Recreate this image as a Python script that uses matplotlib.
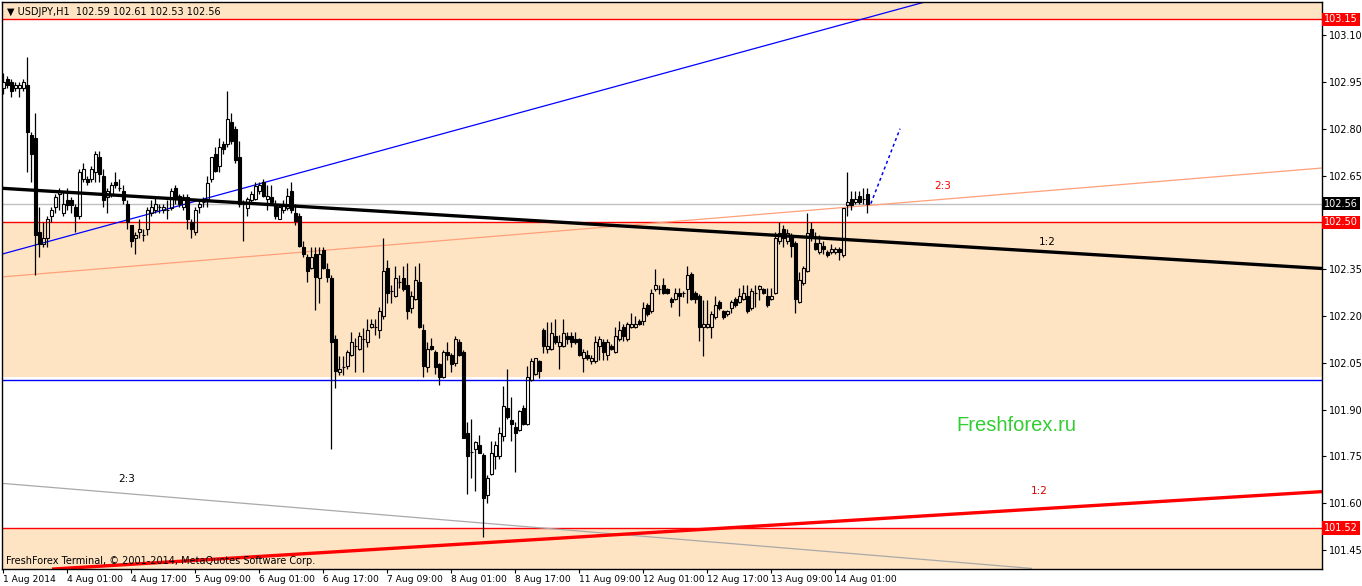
import numpy as np
import matplotlib.pyplot as plt
from matplotlib.transforms import blended_transform_factory

# USDJPY H1 candles (1 Aug 09:00 .. 14 Aug 09:00)
opens = [102.93, 102.96, 102.95, 102.93, 102.93, 102.93, 102.94, 102.78, 102.77, 102.47,
         102.43, 102.45, 102.52, 102.55, 102.59, 102.53, 102.57, 102.57, 102.55, 102.52,
         102.64, 102.64, 102.64, 102.66, 102.71, 102.65, 102.58, 102.59, 102.63, 102.61,
         102.60, 102.56, 102.49, 102.45, 102.47, 102.46, 102.48, 102.53, 102.54, 102.55,
         102.54, 102.54, 102.545, 102.61, 102.585, 102.55, 102.58, 102.50, 102.47, 102.55,
         102.565, 102.575, 102.64, 102.72, 102.68, 102.75, 102.75, 102.82, 102.80, 102.71,
         102.56, 102.545, 102.57, 102.575, 102.60, 102.63, 102.575, 102.58, 102.56, 102.51,
         102.54, 102.545, 102.60, 102.53, 102.52, 102.42, 102.39, 102.355, 102.40, 102.32,
         102.41, 102.35, 102.32, 102.125, 102.02, 102.035, 102.04, 102.075, 102.105, 102.095,
         102.125, 102.115, 102.165, 102.165, 102.155, 102.20, 102.355, 102.28, 102.265, 102.31,
         102.32, 102.30, 102.225, 102.255, 102.31, 102.155, 102.035, 102.105, 102.085, 102.045,
         102.005, 102.085, 102.075, 102.05, 102.115, 102.085, 101.825, 101.765, 101.775, 101.785,
         101.755, 101.625, 101.695, 101.75, 101.75, 101.815, 101.905, 101.865, 101.845, 101.835,
         101.905, 101.855, 101.995, 102.015, 102.055, 102.155, 102.095, 102.095, 102.135, 102.105,
         102.105, 102.135, 102.135, 102.125, 102.125, 102.065, 102.075, 102.055, 102.055, 102.105,
         102.115, 102.075, 102.105, 102.085, 102.125, 102.165, 102.125, 102.165, 102.165, 102.185,
         102.185, 102.235, 102.215, 102.285, 102.285, 102.30, 102.285, 102.255, 102.255, 102.275,
         102.275, 102.285, 102.335, 102.275, 102.265, 102.165, 102.165, 102.165, 102.195, 102.245,
         102.215, 102.205, 102.225, 102.255, 102.245, 102.255, 102.265, 102.225, 102.275, 102.285,
         102.285, 102.265, 102.255, 102.275, 102.44, 102.48, 102.44, 102.455, 102.435, 102.245,
         102.305, 102.345, 102.48, 102.435, 102.405, 102.425, 102.405, 102.405, 102.405, 102.415,
         102.395, 102.555, 102.575, 102.565, 102.585, 102.575, 102.59]
highs = [102.98, 102.97, 102.96, 102.95, 102.95, 102.96, 103.03, 102.79, 102.85, 102.55,
         102.50, 102.52, 102.55, 102.59, 102.61, 102.60, 102.61, 102.58, 102.56, 102.67,
         102.69, 102.65, 102.68, 102.73, 102.73, 102.67, 102.61, 102.63, 102.66, 102.64,
         102.62, 102.57, 102.49, 102.47, 102.51, 102.48, 102.55, 102.57, 102.58, 102.56,
         102.56, 102.57, 102.61, 102.62, 102.59, 102.59, 102.59, 102.51, 102.55, 102.57,
         102.58, 102.65, 102.71, 102.74, 102.77, 102.76, 102.92, 102.85, 102.81, 102.76,
         102.57, 102.58, 102.60, 102.63, 102.63, 102.64, 102.62, 102.62, 102.57, 102.56,
         102.57, 102.61, 102.63, 102.56, 102.53, 102.44, 102.40, 102.42, 102.42, 102.42,
         102.42, 102.37, 102.33, 102.14, 102.07, 102.07, 102.09, 102.15, 102.13, 102.15,
         102.16, 102.19, 102.19, 102.19, 102.23, 102.45, 102.38, 102.30, 102.36, 102.33,
         102.36, 102.37, 102.28, 102.36, 102.37, 102.175, 102.115, 102.13, 102.09, 102.05,
         102.09, 102.115, 102.08, 102.135, 102.125, 102.09, 101.86, 101.87, 101.80, 101.82,
         101.76, 101.69, 101.80, 101.80, 101.845, 101.975, 102.03, 101.94, 101.86, 101.90,
         101.915, 102.04, 102.065, 102.065, 102.06, 102.16, 102.18, 102.18, 102.19, 102.14,
         102.19, 102.15, 102.15, 102.15, 102.13, 102.095, 102.09, 102.075, 102.135, 102.135,
         102.125, 102.125, 102.11, 102.165, 102.185, 102.175, 102.18, 102.21, 102.20, 102.19,
         102.245, 102.24, 102.285, 102.35, 102.30, 102.32, 102.29, 102.26, 102.29, 102.29,
         102.28, 102.36, 102.34, 102.28, 102.27, 102.25, 102.25, 102.215, 102.265, 102.25,
         102.22, 102.22, 102.25, 102.26, 102.29, 102.30, 102.30, 102.29, 102.30, 102.30,
         102.29, 102.29, 102.29, 102.47, 102.50, 102.49, 102.48, 102.465, 102.44, 102.34,
         102.36, 102.53, 102.50, 102.47, 102.46, 102.44, 102.41, 102.43, 102.42, 102.42,
         102.545, 102.66, 102.60, 102.60, 102.60, 102.61, 102.61]
lows = [102.91, 102.93, 102.90, 102.92, 102.90, 102.92, 102.66, 102.63, 102.33, 102.39,
        102.42, 102.42, 102.50, 102.53, 102.54, 102.52, 102.54, 102.53, 102.47, 102.51,
        102.63, 102.62, 102.63, 102.63, 102.63, 102.55, 102.53, 102.58, 102.61, 102.60,
        102.56, 102.48, 102.42, 102.40, 102.45, 102.44, 102.46, 102.52, 102.53, 102.53,
        102.53, 102.51, 102.54, 102.56, 102.55, 102.54, 102.48, 102.45, 102.46, 102.53,
        102.55, 102.55, 102.63, 102.66, 102.66, 102.72, 102.74, 102.75, 102.69, 102.55,
        102.44, 102.52, 102.56, 102.57, 102.59, 102.58, 102.54, 102.56, 102.51, 102.51,
        102.53, 102.54, 102.53, 102.49, 102.42, 102.39, 102.31, 102.35, 102.22, 102.24,
        102.35, 102.31, 101.775, 101.97, 102.01, 102.01, 102.03, 102.07, 102.02, 102.09,
        102.02, 102.10, 102.16, 102.14, 102.13, 102.19, 102.24, 102.24, 102.26, 102.29,
        102.28, 102.19, 102.21, 102.25, 102.16, 102.005, 102.02, 102.09, 102.015, 101.98,
        102.00, 102.06, 102.02, 102.04, 102.07, 101.81, 101.63, 101.68, 101.64, 101.76,
        101.49, 101.60, 101.69, 101.71, 101.74, 101.80, 101.87, 101.80, 101.70, 101.83,
        101.85, 101.85, 101.99, 102.01, 102.00, 102.08, 102.08, 102.09, 102.11, 102.03,
        102.10, 102.11, 102.10, 102.11, 102.07, 102.02, 102.06, 102.045, 102.05, 102.06,
        102.06, 102.06, 102.09, 102.08, 102.12, 102.12, 102.12, 102.16, 102.16, 102.17,
        102.17, 102.20, 102.21, 102.28, 102.27, 102.27, 102.27, 102.23, 102.25, 102.20,
        102.26, 102.24, 102.25, 102.24, 102.12, 102.07, 102.16, 102.13, 102.19, 102.22,
        102.19, 102.20, 102.21, 102.23, 102.24, 102.25, 102.21, 102.22, 102.23, 102.25,
        102.27, 102.23, 102.25, 102.27, 102.43, 102.42, 102.43, 102.39, 102.21, 102.24,
        102.30, 102.34, 102.44, 102.41, 102.40, 102.40, 102.39, 102.40, 102.40, 102.38,
        102.39, 102.52, 102.54, 102.56, 102.56, 102.56, 102.53]
closes = [102.95, 102.94, 102.92, 102.94, 102.94, 102.95, 102.79, 102.72, 102.46, 102.43,
          102.45, 102.51, 102.54, 102.58, 102.60, 102.56, 102.555, 102.555, 102.52, 102.66,
          102.67, 102.63, 102.67, 102.72, 102.655, 102.57, 102.60, 102.62, 102.62, 102.61,
          102.57, 102.50, 102.44, 102.46, 102.48, 102.46, 102.54, 102.55, 102.56, 102.55,
          102.55, 102.54, 102.60, 102.575, 102.56, 102.58, 102.51, 102.48, 102.54, 102.56,
          102.565, 102.625, 102.71, 102.665, 102.74, 102.735, 102.83, 102.76, 102.70, 102.56,
          102.56, 102.575, 102.59, 102.615, 102.62, 102.585, 102.585, 102.565, 102.52, 102.55,
          102.56, 102.585, 102.54, 102.505, 102.425, 102.40, 102.345, 102.39, 102.325, 102.40,
          102.355, 102.325, 102.115, 102.025, 102.03, 102.035, 102.085, 102.115, 102.105, 102.135,
          102.125, 102.155, 102.175, 102.165, 102.215, 102.345, 102.275, 102.28, 102.32, 102.31,
          102.285, 102.215, 102.265, 102.315, 102.165, 102.04, 102.095, 102.095, 102.035, 102.005,
          102.085, 102.075, 102.045, 102.125, 102.075, 101.81, 101.75, 101.765, 101.795, 101.76,
          101.615, 101.68, 101.76, 101.785, 101.825, 101.91, 101.875, 101.855, 101.825, 101.895,
          101.855, 102.005, 102.055, 102.065, 102.025, 102.105, 102.105, 102.145, 102.115, 102.115,
          102.145, 102.125, 102.115, 102.115, 102.075, 102.085, 102.065, 102.065, 102.115, 102.125,
          102.085, 102.115, 102.095, 102.135, 102.155, 102.135, 102.175, 102.175, 102.175, 102.175,
          102.225, 102.205, 102.275, 102.30, 102.285, 102.275, 102.275, 102.245, 102.275, 102.265,
          102.275, 102.33, 102.255, 102.255, 102.165, 102.175, 102.175, 102.205, 102.235, 102.225,
          102.195, 102.215, 102.245, 102.235, 102.265, 102.275, 102.215, 102.28, 102.275, 102.295,
          102.275, 102.235, 102.265, 102.45, 102.465, 102.45, 102.465, 102.425, 102.255, 102.315,
          102.355, 102.465, 102.45, 102.415, 102.435, 102.415, 102.395, 102.415, 102.415, 102.405,
          102.545, 102.565, 102.555, 102.575, 102.565, 102.575, 102.56]

time_labels = ['1 Aug 2014', '4 Aug 01:00', '4 Aug 17:00', '5 Aug 09:00', '6 Aug 01:00',
               '6 Aug 17:00', '7 Aug 09:00', '8 Aug 01:00', '8 Aug 17:00', '11 Aug 09:00',
               '12 Aug 01:00', '12 Aug 17:00', '13 Aug 09:00', '14 Aug 01:00']
label_step = 16

# horizontal levels
level_top = 103.15
level_mid = 102.50
level_low = 102.005
level_blue = 101.995
level_bottom = 101.52
last_price = 102.56

# trend lines: (bar, price) anchors
blue_line = ([-0.33, 230.4], [102.398, 103.206])
black_line = ([-0.33, 329.7], [102.609, 102.352])
salmon_line = ([-0.33, 329.7], [102.325, 102.674])
grey_line = ([-0.8, 257.0], [101.664, 101.391])
red_line = ([12.6, 329.7], [101.389, 101.637])
forecast = ([216.9, 224.2], [102.56, 102.80])

peach = '#FFE4C4'
plt.rcParams['font.family'] = ['DejaVu Sans']

fig = plt.figure(figsize=(13.62, 5.86), dpi=100)
ax = fig.add_axes([2 / 1362, 17 / 586, 1320 / 1362, 567 / 586])
ymin, ymax = 101.389, 103.206
ax.set_xlim(-0.33, 329.7)
ax.set_ylim(ymin, ymax)

# zones
ax.axhspan(level_top, ymax, color=peach, lw=0, zorder=0)
ax.axhspan(level_low, level_mid, color=peach, lw=0, zorder=0)
ax.axhspan(ymin, level_bottom, color=peach, lw=0, zorder=0)
ax.axhline(level_top, color='red', lw=1, zorder=1)
ax.axhline(level_mid, color='red', lw=1, zorder=1)
ax.axhline(level_bottom, color='red', lw=1, zorder=1)
ax.axhline(level_blue, color='blue', lw=1, zorder=1)
ax.axhline(last_price, color='#C0C0C0', lw=1, zorder=1)

# trend lines
ax.plot(*blue_line, color='blue', lw=0.9, zorder=2)
ax.plot(*salmon_line, color='#FFA07A', lw=0.9, zorder=2)
ax.plot(*grey_line, color='#A9A9A9', lw=0.9, zorder=2)
ax.plot(*black_line, color='black', lw=2.4, zorder=2)
ax.plot(*red_line, color='red', lw=2.4, zorder=2)
ax.plot(*forecast, color='blue', lw=1.1, ls=(0, (2, 2)), zorder=2)

# candles
x = np.arange(len(closes))
o = np.array(opens)
c = np.array(closes)
h = np.array(highs)
l = np.array(lows)
top = np.maximum(o, c)
bot = np.minimum(o, c)
ax.vlines(x, top, h, color='black', lw=0.9, zorder=3)
ax.vlines(x, l, bot, color='black', lw=0.9, zorder=3)
up = c > o
ax.bar(x[up], (top - bot)[up], bottom=bot[up], width=0.75, facecolor='none',
       edgecolor='black', lw=0.8, zorder=4)
ax.bar(x[~up], (top - bot)[~up], bottom=bot[~up], width=0.75, color='black',
       edgecolor='black', lw=0.8, zorder=4)

# object labels
ax.text(234.9, 102.616, '2:3', color='red', fontsize=7.5, ha='center', va='center')
ax.text(260.9, 102.437, '1:2', color='black', fontsize=7.5, ha='center', va='center')
ax.text(30.9, 101.677, '2:3', color='black', fontsize=7.5, ha='center', va='center')
ax.text(258.9, 101.638, '1:2', color='#E00000', fontsize=7.5, ha='center', va='center')
ax.text(253.2, 101.85, 'Freshforex.ru', color='#32CD32', fontsize=14.5,
        family='Liberation Sans', ha='center', va='center')
ax.text(5 / 1320, 1 - 10 / 567, '\u25BC USDJPY,H1  102.59 102.61 102.53 102.56',
        transform=ax.transAxes, fontsize=7, va='center', ha='left')
ax.text(4 / 1320, 8 / 567, 'FreshForex Terminal, \u00a9 2001-2014, MetaQuotes Software Corp.',
        transform=ax.transAxes, fontsize=7, va='center', ha='left')

# axes
for s in ax.spines.values():
    s.set_color('black')
    s.set_linewidth(1)
ax.yaxis.tick_right()
yt = np.round(np.arange(101.45, 103.11, 0.15), 2)
ax.set_yticks(yt)
# the 102.50 tick label sits under the red level box, as on the terminal
ax.set_yticklabels(['' if abs(v - level_mid) < 1e-6 else f'{v:.2f}' for v in yt])
ax.tick_params(axis='y', length=3, labelsize=7, pad=2)
xt = np.arange(len(time_labels)) * label_step
ax.set_xticks(xt)
ax.set_xticklabels(time_labels)
for lab in ax.get_xticklabels():
    lab.set_ha('left')
ax.tick_params(axis='x', length=3, labelsize=6.6, pad=1)

# price boxes on the scale
tr = blended_transform_factory(ax.transAxes, ax.transData)
for val, bg in [(level_top, 'red'), (last_price, 'black'), (level_mid, 'red'),
                (level_bottom, 'red')]:
    ax.text(1.0016, val, f'{val:.2f}', transform=tr, color='white', fontsize=7,
            ha='left', va='center', zorder=10,
            bbox=dict(facecolor=bg, edgecolor='none', pad=1.2))

fig.savefig('out.png', dpi=100)
